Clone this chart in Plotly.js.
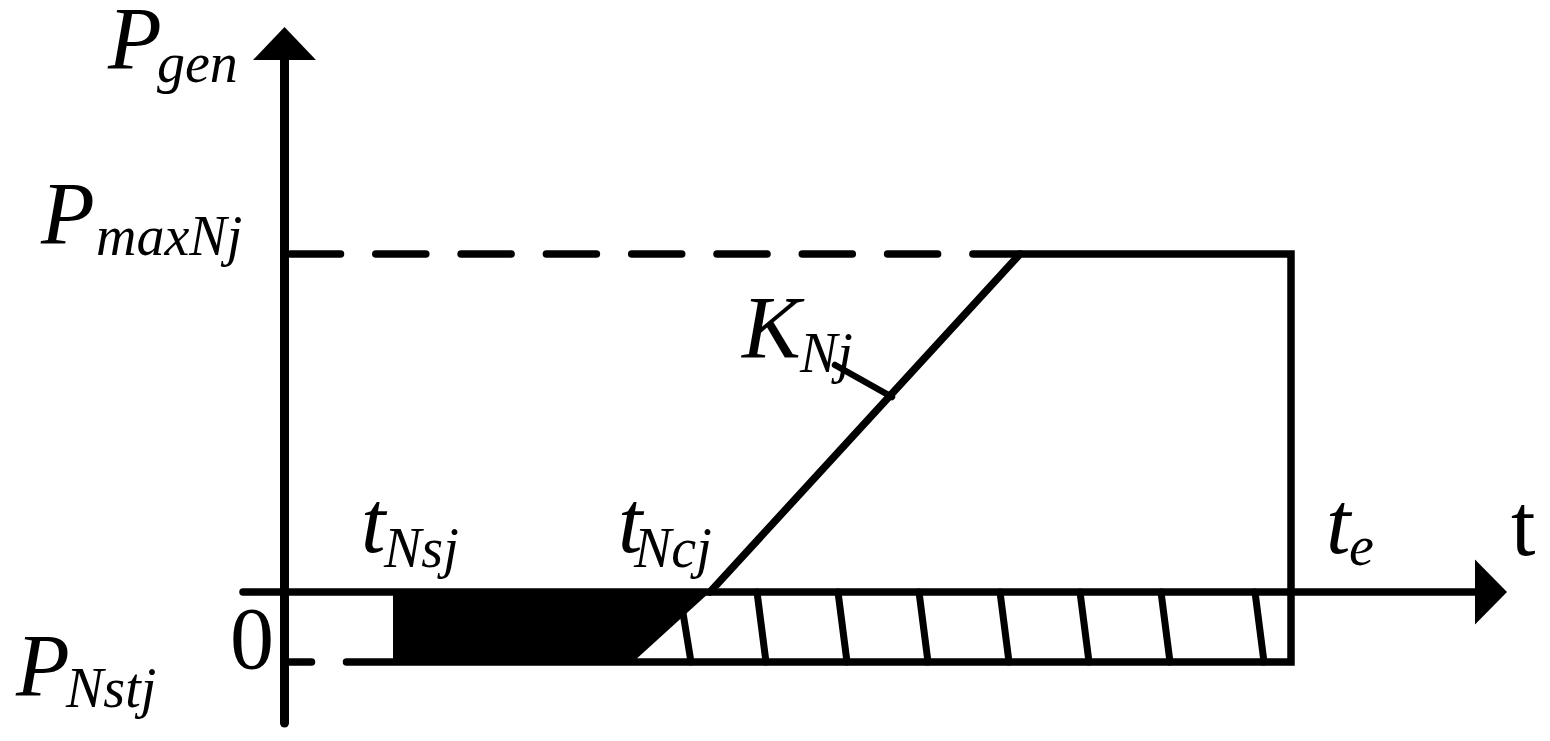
<!DOCTYPE html>
<html>
<head>
<meta charset="utf-8">
<script src="https://cdn.plot.ly/plotly-3.0.1.min.js"></script>
<style>
  html, body { margin: 0; padding: 0; background: #fff; }
  #chart { width: 1550px; height: 741px; }
  .scatterlayer path.js-line { stroke-linecap: round; stroke-linejoin: miter; }
</style>
</head>
<body>
<div id="chart"></div>
<script>
// ---- schematic values (origin = axis crossing, units = px, y up) ----
const tNames  = ['tNsj', 'tNcj', 'tRampEnd', 'te'];
const tValues = [108.5, 425.5, 735.5, 1006.5];
const pNames  = ['PNstj', 'zero', 'PmaxNj'];
const pValues = [-70, 0, 338];
const fillBottomCorner = 348.5;           // where black region meets PNstj line
const hatchTopX    = [398.5, 472.5, 553.5, 634.5, 715.5, 795.5, 876.5, 970.5];
const hatchTopY    = [-21, 0, 0, 0, 0, 0, 0, 0];
const hatchBottomX = [406.5, 481.5, 562.5, 643.5, 724.5, 804.5, 885.5, 979.5];
const leaderX = [550.5, 607.5];
const leaderY = [227, 195];
const axisYExtent = [-131, 532, 565];      // bottom end, arrow base, arrow tip
const axisXExtent = [-41.5, 1190.5, 1222.5];
const arrowHalf = [31.5, 32.5];

// labels
const mainText = ['P', 'P', 'P', 't', 't', 't', 'K'];
const mainX    = [-176.5, -243.5, -268.5, 76.5, 333.5, 1041.5, 457.5];
const mainY    = [546, 371, -81, 62, 62, 61, 257];
const subText  = ['gen', 'maxNj', 'Nstj', 'Nsj', 'Ncj', 'e', 'Nj'];
const subX     = [-127.5, -188.5, -218.5, 99.5, 349.5, 1064.5, 515.5];
const subY     = [524, 351, -101, 39, 39, 41, 234];
const plainText = ['0', 't'];
const plainX    = [-54.5, 1226.5];
const plainY    = [-54, 59];

const [tNsj, tNcj, tR, te] = tValues;
const [PNstj, P0, Pmax] = pValues;
const K = '#000';
const traces = [];

// black filled region
traces.push({x: [tNsj, tNcj, fillBottomCorner, tNsj], y: [P0, P0, PNstj, PNstj],
  mode: 'lines', fill: 'toself', fillcolor: K, line: {width: 0, color: K}, hoverinfo: 'skip'});

// hatch
const hx = [], hy = [];
hatchTopX.forEach((v, i) => { hx.push(v, hatchBottomX[i], null); hy.push(hatchTopY[i], PNstj, null); });
traces.push({x: hx, y: hy, mode: 'lines', line: {color: K, width: 7}, hoverinfo: 'skip'});

// PmaxNj dashed
traces.push({x: [6, tR], y: [Pmax, Pmax], mode: 'lines', line: {color: K, width: 7.5, dash: '50px,35.3px'}, hoverinfo: 'skip'});
// PNstj short tick
traces.push({x: [0, 27], y: [PNstj, PNstj], mode: 'lines', line: {color: K, width: 7.5}, hoverinfo: 'skip'});
// ramp + box outline
traces.push({x: [tNcj, tR, te, te, 62], y: [P0, Pmax, Pmax, PNstj, PNstj], mode: 'lines', line: {color: K, width: 7.5}, hoverinfo: 'skip'});
// leader for K
traces.push({x: leaderX, y: leaderY, mode: 'lines', line: {color: K, width: 6.5}, hoverinfo: 'skip'});

// axes
traces.push({x: [0, 0], y: [axisYExtent[0], axisYExtent[1]], mode: 'lines', line: {color: K, width: 9}, hoverinfo: 'skip'});
traces.push({x: [axisXExtent[0], axisXExtent[1]], y: [0, 0], mode: 'lines', line: {color: K, width: 7.5}, hoverinfo: 'skip'});
traces.push({x: [-arrowHalf[0], arrowHalf[0], 0, -arrowHalf[0]], y: [axisYExtent[1], axisYExtent[1], axisYExtent[2], axisYExtent[1]],
  mode: 'lines', fill: 'toself', fillcolor: K, line: {width: 0, color: K}, hoverinfo: 'skip'});
traces.push({x: [axisXExtent[1], axisXExtent[1], axisXExtent[2], axisXExtent[1]], y: [arrowHalf[1], -arrowHalf[1], 0, arrowHalf[1]],
  mode: 'lines', fill: 'toself', fillcolor: K, line: {width: 0, color: K}, hoverinfo: 'skip'});

// labels
const serif = 'Liberation Serif, Times New Roman, serif';
traces.push({x: mainX, y: mainY, text: mainText, mode: 'text', textposition: 'middle right', cliponaxis: false,
  textfont: {family: serif, size: 88, style: 'italic', color: K}, hoverinfo: 'skip'});
traces.push({x: subX, y: subY, text: subText, mode: 'text', textposition: 'middle right', cliponaxis: false,
  textfont: {family: serif, size: 56, style: 'italic', color: K}, hoverinfo: 'skip'});
traces.push({x: plainX, y: plainY, text: plainText, mode: 'text', textposition: 'middle right', cliponaxis: false,
  textfont: {family: serif, size: 88, color: K}, hoverinfo: 'skip'});

const layout = {
  width: 1550, height: 741,
  margin: {l: 0, r: 0, t: 0, b: 0},
  paper_bgcolor: '#fff', plot_bgcolor: '#fff',
  showlegend: false,
  xaxis: {range: [-284.5, 1265.5], visible: false, fixedrange: true},
  yaxis: {range: [-149, 592], visible: false, fixedrange: true}
};
Plotly.newPlot('chart', traces, layout, {staticPlot: true, displayModeBar: false});
</script>
</body>
</html>
